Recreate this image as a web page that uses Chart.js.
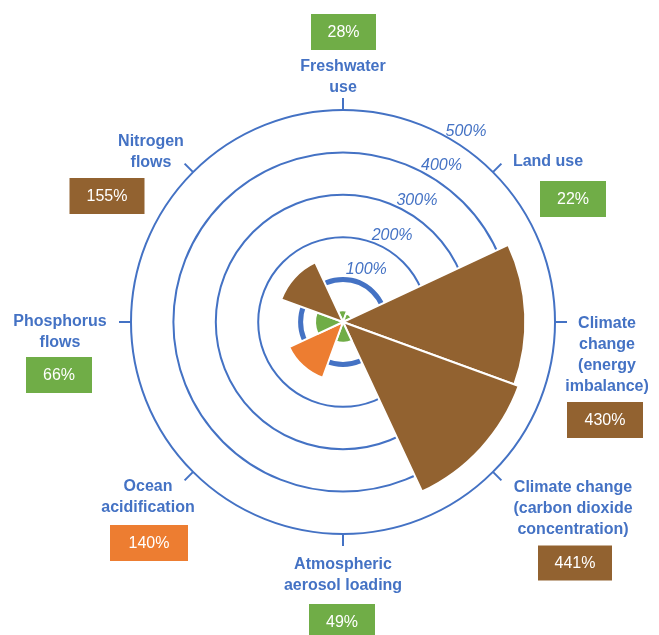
<!DOCTYPE html>
<html>
<head>
<meta charset="utf-8">
<script src="https://cdn.jsdelivr.net/npm/chart.js@4/dist/chart.umd.min.js"></script>
<style>
html,body{margin:0;padding:0;background:#fff;}
#wrap{width:659px;height:635px;position:relative;}
</style>
</head>
<body>
<div id="wrap"><canvas id="c" width="659" height="635"></canvas></div>
<script>
// ---- data ----
const categories = [
  ["Freshwater", "use"],
  ["Land use"],
  ["Climate", "change", "(energy", "imbalance)"],
  ["Climate change", "(carbon dioxide", "concentration)"],
  ["Atmospheric", "aerosol loading"],
  ["Ocean", "acidification"],
  ["Phosphorus", "flows"],
  ["Nitrogen", "flows"]
];
const values = [28, 22, 430, 441, 49, 140, 66, 155];
const statusColors = ["#70AD47", "#70AD47", "#926230", "#926230", "#70AD47", "#ED7D31", "#70AD47", "#926230"];
const ringTicks = [100, 200, 300, 400, 500];
const tickSuffix = "%";

const BLUE = "#4472C4";

// label layout relative to the scale centre (px)
const labelLayout = [
  {lx: 0,    ly: -255, bx: 0.5,  by: -290, bw: 65, bh: 36},
  {lx: 205,  ly: -160, bx: 230,  by: -123, bw: 66, bh: 36},
  {lx: 264,  ly: 2,    bx: 262,  by: 98,   bw: 76, bh: 36},
  {lx: 230,  ly: 166,  bx: 232,  by: 241,  bw: 74, bh: 35},
  {lx: 0,    ly: 243,  bx: -1,   by: 300,  bw: 66, bh: 36},
  {lx: -195, ly: 165,  bx: -194, by: 221,  bw: 78, bh: 36},
  {lx: -283, ly: 0,    bx: -284, by: 53,   bw: 66, bh: 36},
  {lx: -192, ly: -180, bx: -236, by: -126, bw: 75, bh: 36}
];

const decor = {
  id: 'decor',
  afterDraw(chart) {
    const s = chart.scales.r;
    const ctx = chart.ctx;
    const cx = s.xCenter, cy = s.yCenter;
    const R = s.getDistanceFromCenterForValue(ringTicks[ringTicks.length - 1]);
    ctx.save();
    // outer ticks (one per category, evenly spaced from the top)
    ctx.strokeStyle = BLUE;
    ctx.lineWidth = 2;
    categories.forEach((c, i) => {
      const a = i * 2 * Math.PI / categories.length - Math.PI / 2;
      ctx.beginPath();
      ctx.moveTo(cx + Math.cos(a) * R, cy + Math.sin(a) * R);
      ctx.lineTo(cx + Math.cos(a) * (R + 12), cy + Math.sin(a) * (R + 12));
      ctx.stroke();
    });
    // ring tick labels
    ctx.fillStyle = BLUE;
    ctx.font = "italic 16px 'Liberation Sans', Arial, sans-serif";
    ctx.textAlign = 'center';
    ctx.textBaseline = 'middle';
    ringTicks.forEach(v => {
      const r = s.getDistanceFromCenterForValue(v);
      const deg = 55 + 11 * (42.5 / r);
      const a = deg * Math.PI / 180;
      const d = r + 15;
      ctx.fillText(v + tickSuffix, cx + Math.cos(a) * d, cy - Math.sin(a) * d);
    });
    // category labels and value boxes
    categories.forEach((lines, i) => {
      const L = labelLayout[i];
      ctx.fillStyle = BLUE;
      ctx.font = "bold 16px 'Liberation Sans', Arial, sans-serif";
      lines.forEach((t, k) => {
        ctx.fillText(t, cx + L.lx, cy + L.ly + k * 20.7);
      });
      const bx = cx + L.bx, by = cy + L.by;
      ctx.fillStyle = statusColors[i];
      ctx.fillRect(bx - L.bw / 2, by - L.bh / 2, L.bw, L.bh);
      ctx.fillStyle = '#ffffff';
      ctx.font = "16px 'Liberation Sans', Arial, sans-serif";
      ctx.fillText(values[i] + tickSuffix, bx, by + 1);
    });
    ctx.restore();
  }
};

new Chart(document.getElementById('c'), {
  type: 'polarArea',
  data: {
    labels: categories.map(c => c.join(' ')),
    datasets: [{
      data: values,
      backgroundColor: statusColors,
      borderColor: '#ffffff',
      borderWidth: 2
    }]
  },
  options: {
    responsive: false,
    animation: false,
    layout: {padding: {left: 131, right: 104, top: 110, bottom: 101}},
    plugins: {legend: {display: false}, tooltip: {enabled: false}},
    scales: {
      r: {
        min: 0,
        max: 500,
        startAngle: -25,
        ticks: {display: false, stepSize: 100},
        pointLabels: {display: false},
        angleLines: {display: false},
        grid: {
          circular: true,
          color: BLUE,
          lineWidth: (c) => (c.tick && c.tick.value === 100) ? 5 : 2
        }
      }
    }
  },
  plugins: [decor]
});
</script>
</body>
</html>
